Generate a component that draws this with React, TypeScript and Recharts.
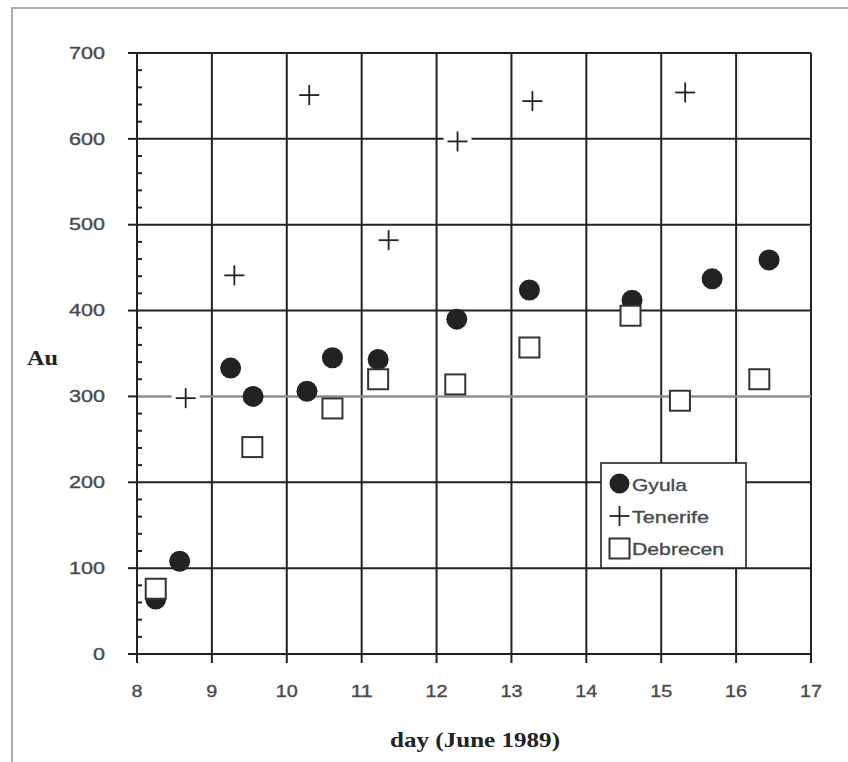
import React from "react";
import {
  ScatterChart,
  Scatter,
  XAxis,
  YAxis,
  CartesianGrid,
  Legend,
  Label,
} from "recharts";

// ---- data ----
const gyulaDays = [8.25, 8.57, 9.25, 9.55, 10.27, 10.61, 11.22, 12.27, 13.24, 14.61, 15.68, 16.44];
const gyulaAu = [64, 108, 333, 300, 306, 345, 343, 390, 424, 412, 437, 459];

const tenerifeDays = [8.65, 9.3, 10.3, 11.36, 12.28, 13.28, 15.32];
const tenerifeAu = [298, 441, 651, 482, 597, 644, 654];

const debrecenDays = [8.25, 9.54, 10.61, 11.22, 12.25, 13.24, 14.59, 15.25, 16.31];
const debrecenAu = [76, 241, 286, 320, 314, 357, 394, 295, 320];

const xTicks = [8, 9, 10, 11, 12, 13, 14, 15, 16, 17];
const yMajorTicks = [0, 100, 200, 300, 400, 500, 600, 700];
const yAllTicks = [
  0, 20, 40, 60, 80, 100, 120, 140, 160, 180, 200, 220, 240, 260, 280, 300,
  320, 340, 360, 380, 400, 420, 440, 460, 480, 500, 520, 540, 560, 580, 600,
  620, 640, 660, 680, 700,
];
const darkGridY = [100, 200, 400, 500, 600, 700];
const lightGridY = [300];
const gridX = [9, 10, 11, 12, 13, 14, 15, 16, 17];

const seriesNames = ["Gyula", "Tenerife", "Debrecen"];

const toPoints = (xs: number[], ys: number[]) => xs.map((x, i) => ({ x, y: ys[i] }));
const gyulaData = toPoints(gyulaDays, gyulaAu);
const tenerifeData = toPoints(tenerifeDays, tenerifeAu);
const debrecenData = toPoints(debrecenDays, debrecenAu);

const SANS = "'Liberation Sans', Arial, sans-serif";
const SERIF = "'Liberation Serif', 'Times New Roman', serif";
const INK = "#222";
const TEXT = "#4a4a4a";

const Y_TICK_SIZE = 9;
const Y_TICK_MARGIN = 23;

// ---- marker shapes ----
const CircleMark = (props: any) => {
  const { cx, cy } = props;
  if (cx == null || cy == null) return null;
  return <circle cx={cx} cy={cy} r={10.5} fill={INK} />;
};

const PlusMark = (props: any) => {
  const { cx, cy } = props;
  if (cx == null || cy == null) return null;
  return (
    <g>
      <rect x={cx - 14} y={cy - 5} width={28} height={10} fill="#fff" />
      <line x1={cx - 10} y1={cy} x2={cx + 10} y2={cy} stroke={INK} strokeWidth={1.8} />
      <line x1={cx} y1={cy - 10} x2={cx} y2={cy + 10} stroke={INK} strokeWidth={1.8} />
    </g>
  );
};

const SquareMark = (props: any) => {
  const { cx, cy } = props;
  if (cx == null || cy == null) return null;
  return (
    <rect x={cx - 10} y={cy - 10} width={20} height={20} fill="#fff" stroke="#333" strokeWidth={2} />
  );
};

// ---- ticks ----
const YTick = (props: any) => {
  const { x, y, payload } = props;
  const v = payload.value as number;
  const axisX = x + Y_TICK_SIZE + Y_TICK_MARGIN;
  const isMajor = yMajorTicks.indexOf(v) >= 0;
  if (!isMajor) {
    return <line x1={axisX} y1={y} x2={axisX + 5} y2={y} stroke={INK} strokeWidth={2} />;
  }
  const s = String(v);
  return (
    <g>
      <line x1={axisX - Y_TICK_SIZE} y1={y} x2={axisX} y2={y} stroke={INK} strokeWidth={2} />
      <text
        x={x}
        y={y}
        dy="0.36em"
        textAnchor="end"
        fontSize={16}
        fontFamily={SANS}
        fill={TEXT}
        stroke={TEXT}
        strokeWidth={0.35}
        textLength={s.length * 12}
        lengthAdjust="spacingAndGlyphs"
      >
        {s}
      </text>
    </g>
  );
};

const XTick = (props: any) => {
  const { x, y, payload } = props;
  const s = String(payload.value);
  return (
    <text
      x={x}
      y={y}
      dy="0.71em"
      textAnchor="middle"
      fontSize={16}
      fontFamily={SANS}
      fill={TEXT}
      stroke={TEXT}
      strokeWidth={0.35}
      textLength={s.length * 11}
      lengthAdjust="spacingAndGlyphs"
    >
      {s}
    </text>
  );
};

// ---- legend ----
const legendText = (x: number, y: number, len: number, s: string) => (
  <text
    x={x}
    y={y}
    fontSize={17}
    fontFamily={SANS}
    fill={TEXT}
    stroke={TEXT}
    strokeWidth={0.35}
    textLength={len}
    lengthAdjust="spacingAndGlyphs"
  >
    {s}
  </text>
);

const LegendBox = () => (
  <svg width={147} height={107} style={{ display: "block" }}>
    <rect x={1} y={1} width={145} height={105} fill="#fff" stroke={INK} strokeWidth={1.6} />
    <circle cx={19.5} cy={21.5} r={10} fill={INK} />
    {legendText(32, 28.5, 55, seriesNames[0])}
    <line x1={9.5} y1={54} x2={29.5} y2={54} stroke={INK} strokeWidth={1.8} />
    <line x1={19.5} y1={44} x2={19.5} y2={64} stroke={INK} strokeWidth={1.8} />
    {legendText(32, 60.5, 77, seriesNames[1])}
    <rect x={9.5} y={76.5} width={20} height={20} fill="#fff" stroke="#333" strokeWidth={2} />
    {legendText(32, 93, 92, seriesNames[2])}
  </svg>
);

export default function App() {
  return (
    <div
      style={{
        position: "absolute",
        left: 0,
        top: 0,
        width: 848,
        height: 762,
        overflow: "hidden",
        background: "#fff",
      }}
    >
      <div
        style={{
          position: "absolute",
          left: 11,
          top: 7,
          width: 900,
          height: 900,
          borderTop: "2px solid #aaa",
          borderLeft: "2px solid #aaa",
        }}
      />
      <div style={{ position: "absolute", left: 0, top: 0 }}>
        <ScatterChart
          width={848}
          height={762}
          margin={{ top: 53, right: 37, bottom: 8, left: 12 }}
        >
          <CartesianGrid
            horizontalValues={darkGridY}
            verticalValues={gridX}
            stroke={INK}
            strokeWidth={2}
          />
          <CartesianGrid
            horizontalValues={lightGridY}
            vertical={false}
            stroke="#8f8f8f"
            strokeWidth={2.5}
          />
          <XAxis
            type="number"
            dataKey="x"
            domain={[8, 17]}
            ticks={xTicks}
            interval={0}
            allowDataOverflow
            height={100}
            tickSize={9}
            tickMargin={23}
            axisLine={{ stroke: INK, strokeWidth: 2 }}
            tickLine={{ stroke: INK, strokeWidth: 2 }}
            tick={<XTick />}
          >
            <Label
              content={(p: any) => {
                const vb = p.viewBox || { x: 137, y: 654, width: 674, height: 100 };
                return (
                  <text
                    x={vb.x + vb.width / 2 + 1}
                    y={vb.y + 92.5}
                    textAnchor="middle"
                    fontSize={21}
                    fontWeight="bold"
                    fontFamily={SERIF}
                    fill={INK}
                    textLength={170}
                    lengthAdjust="spacingAndGlyphs"
                  >
                    day (June 1989)
                  </text>
                );
              }}
            />
          </XAxis>
          <YAxis
            type="number"
            dataKey="y"
            domain={[0, 700]}
            ticks={yAllTicks}
            interval={0}
            allowDataOverflow
            width={125}
            tickSize={Y_TICK_SIZE}
            tickMargin={Y_TICK_MARGIN}
            axisLine={{ stroke: INK, strokeWidth: 2 }}
            tickLine={false}
            tick={<YTick />}
          >
            <Label
              content={(p: any) => {
                const vb = p.viewBox || { x: 12, y: 53, width: 125, height: 601 };
                return (
                  <text
                    x={vb.x + 15}
                    y={vb.y + vb.height / 2 + 11.5}
                    fontSize={22}
                    fontWeight="bold"
                    fontFamily={SERIF}
                    fill={INK}
                    textLength={31}
                    lengthAdjust="spacingAndGlyphs"
                  >
                    Au
                  </text>
                );
              }}
            />
          </YAxis>
          <Scatter
            name={seriesNames[0]}
            data={gyulaData}
            shape={CircleMark}
            isAnimationActive={false}
          />
          <Scatter
            name={seriesNames[1]}
            data={tenerifeData}
            shape={PlusMark}
            isAnimationActive={false}
          />
          <Scatter
            name={seriesNames[2]}
            data={debrecenData}
            shape={SquareMark}
            isAnimationActive={false}
          />
          <Legend
            layout="vertical"
            align="center"
            verticalAlign="middle"
            content={() => <LegendBox />}
            wrapperStyle={{ position: "absolute", left: 600, top: 462, width: 147, height: 107 }}
          />
        </ScatterChart>
      </div>
    </div>
  );
}
